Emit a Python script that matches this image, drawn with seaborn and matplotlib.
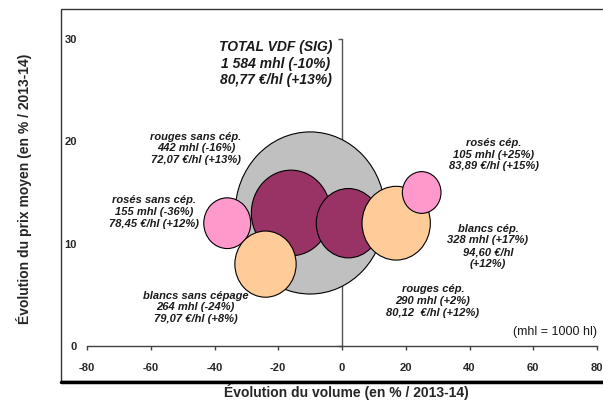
import numpy as np
import pandas as pd
import matplotlib.pyplot as plt
import seaborn as sns
from matplotlib.path import Path
from matplotlib.patches import Rectangle
from matplotlib.lines import Line2D

# Data (drawing order = series order)
categories = ["TOTAL VDF (SIG)", "rouges sans cép.", "rosés sans cép.", "rouges cép.",
              "blancs sans cépage", "blancs cép.", "rosés cép."]
volume_change = [-10, -16, -36, 2, -24, 17, 25]      # % vs 2013-14
price_change = [13, 13, 12, 12, 8, 12, 15]           # % vs 2013-14
volume_mhl = [1584, 442, 155, 290, 264, 328, 105]    # bubble size
bubble_colors = ["#C0C0C0", "#993366", "#FF99CC", "#993366", "#FFCC99", "#FFCC99", "#FF99CC"]

label_texts = [
    "TOTAL VDF (SIG)\n1 584 mhl (-10%)\n80,77 €/hl (+13%)",
    "rouges sans cép.\n442 mhl (-16%)\n72,07 €/hl (+13%)",
    "rosés sans cép.\n155 mhl (-36%)\n78,45 €/hl (+12%)",
    "rouges cép.\n290 mhl (+2%)\n80,12  €/hl (+12%)",
    "blancs sans cépage\n264 mhl (-24%)\n79,07 €/hl (+8%)",
    "blancs cép.\n328 mhl (+17%)\n94,60 €/hl\n(+12%)",
    "rosés cép.\n105 mhl (+25%)\n83,89 €/hl (+15%)",
]
label_pos = [(-20.7, 27.6), (-45.8, 19.3), (-58.9, 13.1), (28.5, 4.4),
             (-46.0, 3.8), (45.8, 9.75), (47.6, 18.7)]

df = pd.DataFrame({
    "categorie": categories,
    "volume": volume_change,
    "prix": price_change,
    "mhl": volume_mhl,
})

sns.set_style("white")
plt.rcParams["font.family"] = ["Liberation Sans", "DejaVu Sans"]
plt.rcParams["font.weight"] = "bold"
plt.rcParams["axes.unicode_minus"] = False

fig = plt.figure(figsize=(6.03, 4.05), dpi=100)
ax = fig.add_axes([87 / 603, 1 - 346 / 405, 510 / 603, 307 / 405])

# slightly taller-than-wide bubbles, as in the reference
circ = Path.unit_circle()
ellipse = Path(circ.vertices * np.array([1 / 1.08, 1.0]), circ.codes)

sns.scatterplot(data=df, x="volume", y="prix", hue="categorie",
                palette=dict(zip(categories, bubble_colors)),
                size="mhl", sizes={v: 8.6 * v for v in volume_mhl},
                marker=ellipse, edgecolor="black", linewidth=0.8,
                alpha=1, legend=False, zorder=3, ax=ax)

for txt, (tx, ty) in zip(label_texts, label_pos):
    fs = 10 if txt.startswith("TOTAL") else 8
    ax.text(tx, ty, txt, ha="center", va="center", fontsize=fs,
            fontstyle="italic", fontweight="bold", color="#1a1a1a", zorder=4)

ax.text(80, 1.4, "(mhl = 1000 hl)", ha="right", va="center", fontsize=9,
        fontweight="normal", color="#1a1a1a")

ax.set_xlim(-80, 80)
ax.set_ylim(0, 30)
ax.set_xticks(range(-80, 81, 20))
ax.set_yticks([0, 10, 20, 30])

ax.spines["top"].set_visible(False)
ax.spines["left"].set_visible(False)
ax.spines["right"].set_position(("data", 0))
ax.spines["right"].set_color("#555555")
ax.spines["bottom"].set_color("#404040")
for s in ("right", "bottom"):
    ax.spines[s].set_linewidth(1)
    ax.spines[s].set_zorder(1)

ax.tick_params(axis="x", direction="out", length=3, width=1, color="#404040",
               pad=9.5, labelsize=8, bottom=True)
ax.tick_params(axis="y", direction="in", length=3, width=1, color="#555555",
               left=False, right=True, labelleft=True, labelright=False,
               pad=7.2, labelsize=8)

ax.set_xlabel("Évolution du volume (en % / 2013-14)", fontsize=10, fontweight="bold")
ax.set_ylabel("Évolution du prix moyen (en % / 2013-14)", fontsize=10, fontweight="bold")
ax.xaxis.set_label_coords((346 - 87) / 510, -(392 - 346) / 307)
ax.xaxis.label.set_va("center")
ax.yaxis.set_label_coords((24 - 87) / 510, (346 - 189) / 307)
ax.yaxis.label.set_va("center")

# chart-area frame with shadowed bottom edge
fig.patches.append(Rectangle((61 / 603, 1 - 381 / 405), 1.0, (381 - 9) / 405,
                             transform=fig.transFigure, fill=False,
                             edgecolor="#333333", linewidth=1))
fig.add_artist(Line2D([61 / 603, 1.0], [1 - 382 / 405] * 2,
                      transform=fig.transFigure, color="black", linewidth=2.5))

fig.savefig("out.png", dpi=100)
plt.close(fig)
